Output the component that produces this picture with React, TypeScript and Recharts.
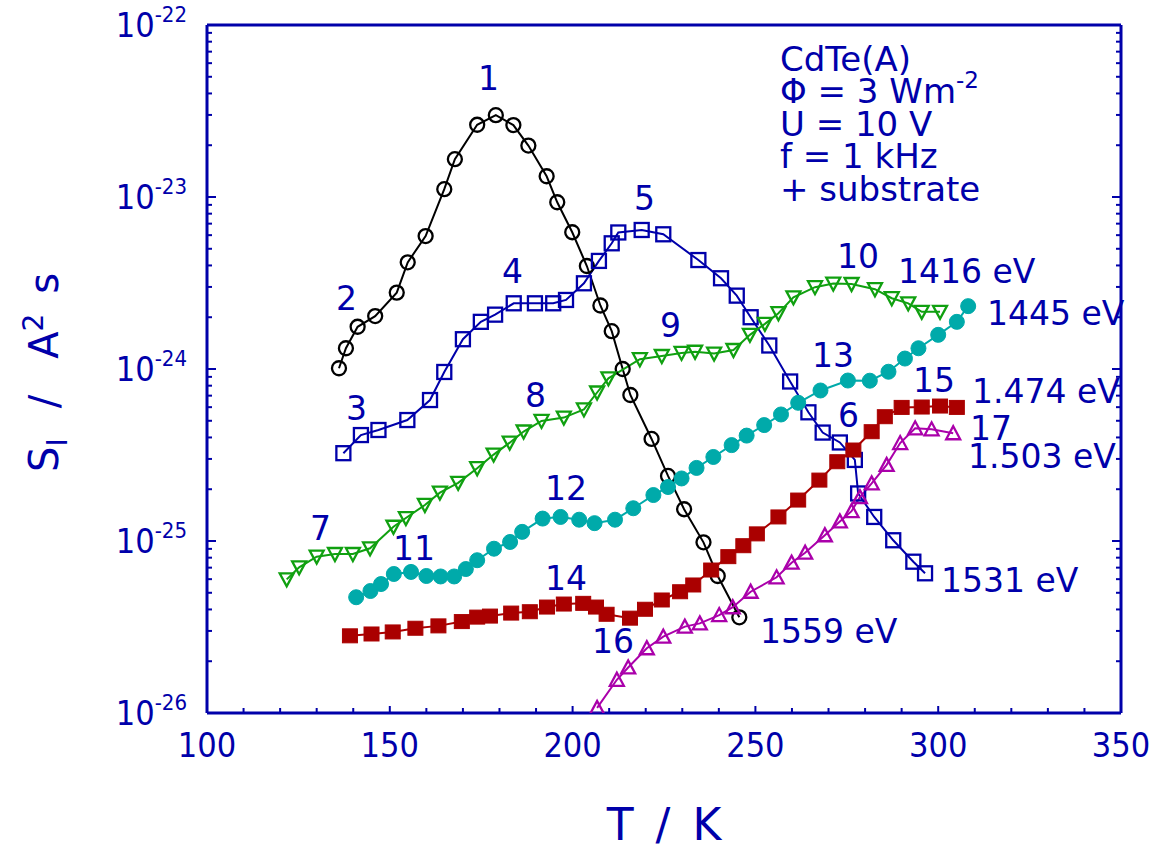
import React from 'react';
import { LineChart, Line, XAxis, YAxis, Customized } from 'recharts';

const BLUE = '#0000AA';
const FONT = "'DejaVu Sans', sans-serif";
const TICK_FONT = "'Liberation Sans Narrow', 'DejaVu Sans Condensed', sans-serif";

// ---- data: T / K and S_I / A^2 s ----
const curve1T = [136.1, 138.0, 141.2, 146.0, 151.9, 154.9, 159.8, 164.9, 167.8, 173.9, 179.0, 183.8, 187.9, 192.9, 195.8, 199.9, 203.9, 207.6, 210.7, 213.7, 215.8, 221.6, 226.1, 230.5, 235.8, 239.7, 245.6];
const curve1S = [1.01e-24, 1.32e-24, 1.76e-24, 2.03e-24, 2.78e-24, 4.17e-24, 5.93e-24, 1.11e-23, 1.66e-23, 2.63e-23, 2.99e-23, 2.62e-23, 1.99e-23, 1.32e-23, 9.32e-24, 6.24e-24, 3.97e-24, 2.34e-24, 1.66e-24, 1.0e-24, 7.06e-25, 3.92e-25, 2.39e-25, 1.53e-25, 9.82e-26, 6.26e-26, 3.6e-26];

const curve2T = [137.3, 142.1, 146.9, 154.8, 161.0, 164.9, 170.0, 174.9, 178.8, 183.9, 189.7, 194.7, 198.2, 203.1, 207.2, 210.7, 212.5, 218.9, 224.8, 234.4, 240.6, 244.9, 248.7, 253.8, 259.5, 264.5, 268.4, 273.1, 277.2, 278.1, 282.5, 287.7, 293.2, 296.4];
const curve2S = [3.24e-25, 4.13e-25, 4.42e-25, 5.05e-25, 6.6e-25, 9.61e-25, 1.49e-24, 1.88e-24, 2.07e-24, 2.41e-24, 2.41e-24, 2.41e-24, 2.52e-24, 3.15e-24, 4.25e-24, 5.38e-24, 6.22e-24, 6.43e-24, 6.07e-24, 4.3e-24, 3.37e-24, 2.67e-24, 2.0e-24, 1.37e-24, 8.46e-25, 5.6e-25, 4.27e-25, 3.74e-25, 2.96e-25, 1.89e-25, 1.38e-25, 1.01e-25, 7.58e-26, 6.49e-26];

const curve3T = [121.8, 125.2, 130.0, 135.0, 139.9, 144.6, 151.0, 154.4, 159.6, 163.7, 168.7, 173.9, 178.4, 182.8, 186.6, 191.5, 197.6, 203.1, 206.7, 209.8, 218.4, 224.4, 229.8, 233.5, 238.7, 244.0, 248.5, 252.6, 256.3, 260.4, 266.3, 271.3, 276.3, 282.7, 287.3, 291.8, 295.5, 300.5];
const curve3S = [5.98e-26, 7.03e-26, 8.11e-26, 8.4e-26, 8.4e-26, 9.07e-26, 1.21e-25, 1.36e-25, 1.62e-25, 1.91e-25, 2.18e-25, 2.65e-25, 3.18e-25, 3.73e-25, 4.33e-25, 4.99e-25, 5.22e-25, 5.82e-25, 7.3e-25, 8.83e-25, 1.14e-24, 1.19e-24, 1.24e-24, 1.26e-24, 1.23e-24, 1.29e-24, 1.58e-24, 1.83e-24, 2.11e-24, 2.61e-24, 2.99e-24, 3.14e-24, 3.12e-24, 2.91e-24, 2.58e-24, 2.41e-24, 2.15e-24, 2.15e-24];

const curve4T = [140.8, 144.7, 147.6, 151.1, 155.8, 160.0, 163.9, 167.6, 170.8, 173.9, 178.5, 182.9, 186.2, 191.8, 196.7, 201.8, 206.0, 211.6, 216.6, 222.1, 226.1, 229.8, 233.9, 238.5, 243.5, 247.6, 252.4, 257.0, 261.7, 267.8, 275.3, 281.3, 286.4, 290.9, 294.6, 300.0, 305.1, 308.2];
const curve4S = [4.71e-26, 5.12e-26, 5.62e-26, 6.43e-26, 6.61e-26, 6.26e-26, 6.22e-26, 6.22e-26, 6.87e-26, 7.73e-26, 9.02e-26, 9.87e-26, 1.13e-25, 1.35e-25, 1.38e-25, 1.33e-25, 1.27e-25, 1.33e-25, 1.55e-25, 1.85e-25, 2.06e-25, 2.31e-25, 2.66e-25, 3.08e-25, 3.61e-25, 4.1e-25, 4.72e-25, 5.44e-25, 6.36e-25, 7.5e-25, 8.57e-25, 8.55e-25, 9.64e-25, 1.15e-24, 1.32e-24, 1.58e-24, 1.88e-24, 2.32e-24];

const curve5T = [139.1, 145.0, 150.8, 157.0, 163.3, 169.7, 173.9, 177.4, 183.2, 188.3, 193.0, 197.6, 202.9, 206.4, 209.3, 215.7, 219.8, 224.4, 229.4, 233.0, 237.9, 242.6, 246.7, 250.4, 256.3, 261.7, 267.5, 272.4, 276.8, 281.8, 285.4, 290.0, 295.5, 300.5, 305.1];
const curve5S = [2.81e-26, 2.88e-26, 2.96e-26, 3.11e-26, 3.21e-26, 3.4e-26, 3.61e-26, 3.66e-26, 3.81e-26, 3.88e-26, 4.13e-26, 4.3e-26, 4.34e-26, 4.13e-26, 3.75e-26, 3.56e-26, 4.01e-26, 4.54e-26, 5.07e-26, 5.55e-26, 6.78e-26, 8.11e-26, 9.39e-26, 1.1e-25, 1.38e-25, 1.73e-25, 2.26e-25, 2.89e-25, 3.38e-25, 4.32e-25, 5.28e-25, 5.98e-25, 6.01e-25, 6.09e-25, 5.98e-25];

const curve6T = [206.7, 212.1, 215.2, 220.3, 224.8, 230.7, 234.8, 240.1, 243.8, 248.7, 255.8, 259.9, 263.6, 269.0, 273.1, 276.3, 278.6, 281.8, 285.9, 289.6, 293.7, 298.2, 304.1];
const curve6S = [1.07e-26, 1.56e-26, 1.84e-26, 2.38e-26, 2.78e-26, 3.18e-26, 3.32e-26, 3.71e-26, 4.12e-26, 5.07e-26, 6.15e-26, 7.48e-26, 8.55e-26, 1.08e-25, 1.3e-25, 1.49e-25, 1.8e-25, 2.16e-25, 2.77e-25, 3.71e-25, 4.52e-25, 4.46e-25, 4.23e-25];

// ---- axis ticks ----
const xTicks = [100, 110, 120, 130, 140, 150, 160, 170, 180, 190, 200, 210, 220, 230, 240, 250, 260, 270, 280, 290, 300, 310, 320, 330, 340, 350];
const xMajor = [100, 150, 200, 250, 300, 350];
const yDecades = [-26, -25, -24, -23, -22];
const yMantissas = [1, 2, 3, 4, 5, 6, 7, 8, 9];

const yTicks: number[] = [];
yDecades.forEach((e) => {
  yMantissas.forEach((m) => {
    if (e === -22 && m > 1) return;
    yTicks.push(Number((m * Math.pow(10, e)).toPrecision(3)));
  });
});

const zip = (t: number[], s: number[]) => t.map((v, i) => ({ t: v, s: s[i] }));

const series = [
  { id: 'c1', data: zip(curve1T, curve1S), color: '#000000', marker: 'circle' },
  { id: 'c2', data: zip(curve2T, curve2S), color: '#0000AA', marker: 'square' },
  { id: 'c3', data: zip(curve3T, curve3S), color: '#10A010', marker: 'down' },
  { id: 'c4', data: zip(curve4T, curve4S), color: '#00AAAA', marker: 'fcircle' },
  { id: 'c5', data: zip(curve5T, curve5S), color: '#AA0000', marker: 'fsquare' },
  { id: 'c6', data: zip(curve6T, curve6S), color: '#AA00AA', marker: 'up' },
];

const makeDot = (kind: string, color: string) => (p: any) => {
  const { cx, cy, index } = p;
  const k = `d${index}`;
  if (cx == null || cy == null) return <g key={k} />;
  switch (kind) {
    case 'circle':
      return <circle key={k} cx={cx} cy={cy} r={7} fill="none" stroke={color} strokeWidth={2.3} />;
    case 'square':
      return <rect key={k} x={cx - 7} y={cy - 7} width={14} height={14} fill="none" stroke={color} strokeWidth={2.3} />;
    case 'down':
      return <path key={k} d={`M${cx - 7},${cy - 6}L${cx + 7},${cy - 6}L${cx},${cy + 7}Z`} fill="none" stroke={color} strokeWidth={2.3} />;
    case 'up':
      return <path key={k} d={`M${cx - 7},${cy + 6}L${cx + 7},${cy + 6}L${cx},${cy - 7}Z`} fill="none" stroke={color} strokeWidth={2.3} />;
    case 'fcircle':
      return <circle key={k} cx={cx} cy={cy} r={7.5} fill={color} stroke={color} strokeWidth={1} />;
    case 'fsquare':
      return <rect key={k} x={cx - 7.5} y={cy - 7} width={15} height={14} fill={color} stroke={color} strokeWidth={1} />;
    default:
      return <g key={k} />;
  }
};

const isMajorY = (v: number) => {
  const e = Math.round(Math.log10(v));
  return Math.abs(v / Math.pow(10, e) - 1) < 1e-6;
};

const LeftTick = (props: any) => {
  const { x, y, payload } = props;
  const v = payload.value;
  const major = isMajorY(v);
  const e = Math.round(Math.log10(v));
  return (
    <g>
      <line x1={x} y1={y} x2={x + (major ? 9 : 5)} y2={y} stroke={BLUE} strokeWidth={2} />
      {major && (
        <text x={x - 20} y={y + 12} textAnchor="end" fill={BLUE} fontFamily={TICK_FONT}>
          <tspan fontSize={34}>10</tspan>
          <tspan fontSize={22} dy={-15}>{String(e)}</tspan>
        </text>
      )}
    </g>
  );
};

const RightTick = (props: any) => {
  const { x, y, payload } = props;
  const major = isMajorY(payload.value);
  return <line x1={x} y1={y} x2={x - (major ? 9 : 5)} y2={y} stroke={BLUE} strokeWidth={2} />;
};

const BottomTick = (props: any) => {
  const { x, y, payload } = props;
  const major = xMajor.includes(payload.value);
  return (
    <g>
      <line x1={x} y1={y} x2={x} y2={y - (major ? 7 : 5)} stroke={BLUE} strokeWidth={2} />
      {major && (
        <text x={x} y={y + 44} textAnchor="middle" fill={BLUE} fontSize={34} fontFamily={TICK_FONT}>
          {payload.value}
        </text>
      )}
    </g>
  );
};

const TopTick = (props: any) => {
  const { x, y, payload } = props;
  const major = xMajor.includes(payload.value);
  return <line x1={x} y1={y} x2={x} y2={y + (major ? 7 : 5)} stroke={BLUE} strokeWidth={2} />;
};

const curveLabels = [
  { text: '1', x: 478, y: 90 },
  { text: '2', x: 336, y: 310 },
  { text: '3', x: 346, y: 420 },
  { text: '4', x: 502, y: 283 },
  { text: '5', x: 634, y: 210 },
  { text: '6', x: 838, y: 427 },
  { text: '7', x: 310, y: 540 },
  { text: '8', x: 525, y: 407 },
  { text: '9', x: 660, y: 337 },
  { text: '10', x: 837, y: 268 },
  { text: '11', x: 393, y: 560 },
  { text: '12', x: 545, y: 500 },
  { text: '13', x: 812, y: 367 },
  { text: '14', x: 545, y: 590 },
  { text: '15', x: 913, y: 392 },
  { text: '16', x: 592, y: 653 },
  { text: '17', x: 970, y: 440 },
  { text: '1416 eV', x: 898, y: 283 },
  { text: '1445 eV', x: 987, y: 325 },
  { text: '1.474 eV', x: 972, y: 403 },
  { text: '1.503 eV', x: 968, y: 468 },
  { text: '1531 eV', x: 941, y: 592 },
  { text: '1559 eV', x: 760, y: 643 },
];

const Annotations = () => (
  <g fill={BLUE} fontFamily={FONT}>
    {curveLabels.map((l) => (
      <text key={l.text + l.x} x={l.x} y={l.y} fontSize={33} fill={BLUE}>
        {l.text}
      </text>
    ))}
    <text x={780} y={71} fontSize={34} fill={BLUE}>CdTe(A)</text>
    <text x={780} y={103} fontSize={34} fill={BLUE}>
      <tspan>Φ = 3 Wm</tspan>
      <tspan fontSize={23} dy={-15}>-2</tspan>
    </text>
    <text x={780} y={136} fontSize={34} fill={BLUE}>U = 10 V</text>
    <text x={780} y={168} fontSize={34} fill={BLUE}>f = 1 kHz</text>
    <text x={780} y={201} fontSize={34} fill={BLUE}>+ substrate</text>
    <text x={664} y={840} fontSize={44} fill={BLUE} textAnchor="middle" wordSpacing={8}>T / K</text>
    <text transform="translate(58,472) rotate(-90)" x={0} y={0} fontSize={40} fill={BLUE}>
      <tspan>S</tspan>
      <tspan fontSize={28} dy={9}>I</tspan>
      <tspan dx={30} dy={-9}>/</tspan>
      <tspan dx={36}>A</tspan>
      <tspan fontSize={28} dy={-15}>2</tspan>
      <tspan dx={20} dy={15}>s</tspan>
    </text>
  </g>
);

export default function App() {
  return (
    <div style={{ position: 'absolute', left: 0, top: 0, background: '#fff' }}>
      <LineChart width={1157} height={851} margin={{ top: 15, right: 26, bottom: 78, left: 107 }}>
        <XAxis
          xAxisId="bottom"
          dataKey="t"
          type="number"
          domain={[100, 350]}
          allowDataOverflow
          ticks={xTicks}
          interval={0}
          height={60}
          tickSize={0}
          tickMargin={0}
          tick={BottomTick}
          axisLine={{ stroke: BLUE, strokeWidth: 3 }}
          tickLine={false}
        />
        <XAxis
          xAxisId="top"
          orientation="top"
          type="number"
          domain={[100, 350]}
          allowDataOverflow
          ticks={xTicks}
          interval={0}
          height={10}
          tickSize={0}
          tickMargin={0}
          tick={TopTick}
          axisLine={{ stroke: BLUE, strokeWidth: 3 }}
          tickLine={false}
        />
        <YAxis
          yAxisId="left"
          type="number"
          scale="log"
          domain={[1e-26, 1e-22]}
          allowDataOverflow
          ticks={yTicks}
          interval={0}
          width={100}
          tickSize={0}
          tickMargin={0}
          tick={LeftTick}
          axisLine={{ stroke: BLUE, strokeWidth: 3 }}
          tickLine={false}
        />
        <YAxis
          yAxisId="right"
          orientation="right"
          type="number"
          scale="log"
          domain={[1e-26, 1e-22]}
          allowDataOverflow
          ticks={yTicks}
          interval={0}
          width={10}
          tickSize={0}
          tickMargin={0}
          tick={RightTick}
          axisLine={{ stroke: BLUE, strokeWidth: 3 }}
          tickLine={false}
        />
        {series.map((s) => (
          <Line
            key={s.id}
            xAxisId="bottom"
            yAxisId="left"
            data={s.data}
            dataKey="s"
            type="linear"
            stroke={s.color}
            strokeWidth={2}
            dot={makeDot(s.marker, s.color)}
            activeDot={false}
            isAnimationActive={false}
          />
        ))}
        <Customized component={Annotations} />
      </LineChart>
    </div>
  );
}
